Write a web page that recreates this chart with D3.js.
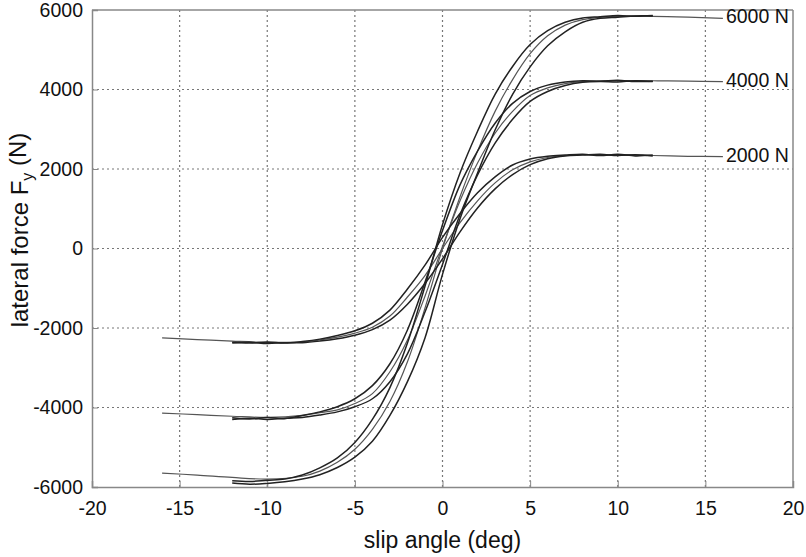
<!DOCTYPE html>
<html><head><meta charset="utf-8">
<script src="https://cdn.jsdelivr.net/npm/d3@7/dist/d3.min.js"></script>
<style>body{margin:0;background:#fff}svg{display:block}text{font-family:"Liberation Sans",Arial,sans-serif;fill:#111}</style>
</head><body>
<script>
// ---- data ----
const xTicks = [-20,-15,-10,-5,0,5,10,15,20];
const yTicks = [-6000,-4000,-2000,0,2000,4000,6000];
const loadLabels = ["6000 N","4000 N","2000 N"];

// model curves (extend to +-16 deg)
const modelX = [-16,-14,-12,-10,-8,-7,-6,-5,-4,-3,-2,-1,0,1,2,3,4,5,6,7,8,10,12,14,16];
const model6000 = [-5650,-5700,-5760,-5800,-5730,-5600,-5380,-5050,-4550,-3850,-2850,-1500,0,1300,2450,3450,4250,4900,5350,5620,5760,5840,5840,5820,5790];
const model4000 = [-4140,-4180,-4220,-4250,-4200,-4130,-4060,-3900,-3650,-3100,-2300,-1200,50,1200,2150,2900,3450,3850,4040,4150,4200,4220,4220,4210,4200];
const model2000 = [-2250,-2290,-2330,-2360,-2350,-2300,-2230,-2130,-1980,-1700,-1220,-680,0,650,1200,1650,1980,2180,2290,2340,2360,2350,2340,2320,2310];

// measured hysteresis branches (-12 .. 12 deg)
const measX = [-12,-11,-10,-9,-8,-7,-6,-5,-4,-3,-2,-1,0,1,2,3,4,5,6,7,8,9,10,11,12];
const meas6000a = [-5840,-5860,-5830,-5800,-5700,-5520,-5270,-4880,-4300,-3500,-2380,-950,600,1900,2950,3880,4580,5130,5480,5690,5800,5830,5860,5840,5860];
const meas6000b = [-5900,-5930,-5910,-5870,-5800,-5690,-5510,-5250,-4850,-4200,-3350,-2250,-650,750,1900,2980,3880,4570,5100,5450,5690,5790,5820,5850,5850];
const meas4000a = [-4260,-4290,-4250,-4280,-4200,-4110,-3980,-3780,-3450,-2900,-2050,-850,450,1600,2450,3150,3650,3950,4110,4190,4220,4210,4230,4200,4210];
const meas4000b = [-4300,-4270,-4300,-4270,-4250,-4190,-4110,-3980,-3780,-3350,-2650,-1600,-400,850,1850,2650,3250,3700,3950,4100,4180,4200,4190,4220,4200];
const meas2000a = [-2360,-2380,-2350,-2380,-2340,-2280,-2190,-2070,-1880,-1550,-1020,-420,280,880,1400,1800,2100,2250,2320,2350,2370,2340,2370,2330,2350];
const meas2000b = [-2380,-2360,-2390,-2370,-2370,-2330,-2270,-2180,-2040,-1800,-1400,-880,-260,420,1020,1500,1860,2110,2260,2330,2350,2370,2340,2360,2330];

// ---- layout ----
const W = 806, H = 557;
const m = {l:92, r:13, t:10, b:70};
const svg = d3.select("body").append("svg").attr("width",W).attr("height",H);
const x = d3.scaleLinear().domain([-20,20]).range([m.l, W-m.r]);
const y = d3.scaleLinear().domain([-6000,6000]).range([H-m.b, m.t]);

const grid = svg.append("g");
xTicks.slice(1,-1).forEach(t => grid.append("line")
  .attr("x1",x(t)).attr("x2",x(t)).attr("y1",y(-6000)).attr("y2",y(6000))
  .attr("stroke","#777").attr("stroke-width",1.2).attr("stroke-dasharray","2,3"));
yTicks.slice(1,-1).forEach(t => grid.append("line")
  .attr("x1",x(-20)).attr("x2",x(20)).attr("y1",y(t)).attr("y2",y(t))
  .attr("stroke","#777").attr("stroke-width",1.2).attr("stroke-dasharray","2,3"));

// axes
const fmt = d => String(d);
const xAxis = svg.append("g").attr("transform",`translate(0,${y(-6000)})`)
  .call(d3.axisBottom(x).tickValues(xTicks).tickSize(-6).tickPadding(14).tickFormat(fmt));
const yAxis = svg.append("g").attr("transform",`translate(${x(-20)},0)`)
  .call(d3.axisLeft(y).tickValues(yTicks).tickSize(-6).tickPadding(9).tickFormat(fmt));
[xAxis,yAxis].forEach(a => {
  a.select(".domain").attr("stroke","#888").attr("stroke-width",1.5);
  a.selectAll(".tick line").attr("stroke","#888");
  a.selectAll(".tick text").attr("font-size",19.5).attr("font-family","Liberation Sans, Arial, sans-serif").attr("fill","#111");
});
// box top/right
svg.append("line").attr("x1",x(-20)).attr("x2",x(20)).attr("y1",y(6000)).attr("y2",y(6000)).attr("stroke","#888").attr("stroke-width",1.5);
svg.append("line").attr("x1",x(20)).attr("x2",x(20)).attr("y1",y(6000)).attr("y2",y(-6000)).attr("stroke","#888").attr("stroke-width",1.5);

// curves
const line = d3.line().x(d=>x(d[0])).y(d=>y(d[1])).curve(d3.curveCatmullRom);
const zip = (xs,ys) => xs.map((v,i)=>[v,ys[i]]);
const plot = svg.append("g");
[model6000,model4000,model2000].forEach(ys => plot.append("path").attr("d",line(zip(modelX,ys)))
  .attr("fill","none").attr("stroke","#555").attr("stroke-width",1.2));
[meas6000a,meas6000b,meas4000a,meas4000b,meas2000a,meas2000b].forEach(ys => plot.append("path").attr("d",line(zip(measX,ys)))
  .attr("fill","none").attr("stroke","#222").attr("stroke-width",1.5));

// load labels
[model6000,model4000,model2000].forEach((ys,i) => svg.append("text")
  .attr("x",x(16)+3).attr("y",y(ys[ys.length-1]) - 2).attr("dy","0.36em")
  .attr("font-size",19.5).text(loadLabels[i]));

// axis titles
svg.append("text").attr("x",(x(-20)+x(20))/2).attr("y",548).attr("text-anchor","middle")
  .attr("font-size",23).text("slip angle (deg)");
const yt = svg.append("text").attr("transform",`translate(28,230) rotate(-90)`)
  .attr("text-anchor","middle").attr("font-size",24);
yt.append("tspan").text("lateral force F");
yt.append("tspan").attr("font-size",16).attr("dy","0.3em").text("y");
yt.append("tspan").attr("dy","-0.3em").text(" (N)");
</script>
</body></html>
